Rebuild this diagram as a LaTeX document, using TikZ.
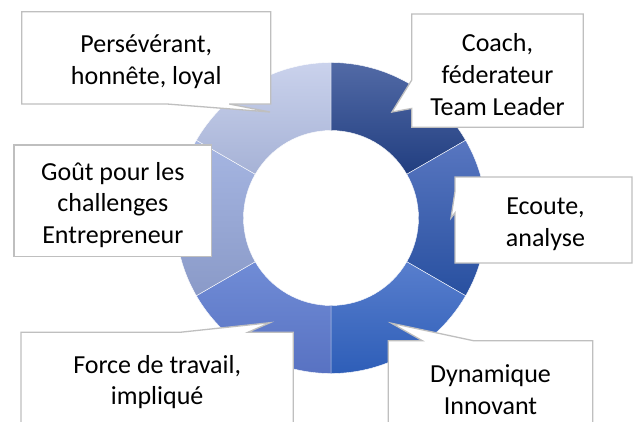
\documentclass[tikz,border=0pt]{standalone}
\usepackage{fontspec}
\setmainfont{Carlito}
\usetikzlibrary{calc}
\definecolor{coachT}{RGB}{82,106,166}
\definecolor{coachB}{RGB}{33,62,128}
\definecolor{ecouteT}{RGB}{88,118,192}
\definecolor{ecouteB}{RGB}{40,80,160}
\definecolor{dynT}{RGB}{88,126,205}
\definecolor{dynB}{RGB}{46,94,184}
\definecolor{forceT}{RGB}{112,140,214}
\definecolor{forceB}{RGB}{88,114,194}
\definecolor{goutT}{RGB}{166,182,226}
\definecolor{goutB}{RGB}{138,154,200}
\definecolor{persT}{RGB}{202,210,236}
\definecolor{persB}{RGB}{166,178,214}
\definecolor{boxline}{RGB}{191,191,191}
\tikzset{
  seg/.style={draw=white, line width=0.4pt},
  boxgeo/.style={draw=none, fill=none, inner sep=0pt, outer sep=0pt},
  callout/.style={draw=boxline, fill=white, line width=1.3pt, line join=miter},
  txt/.style={align=center, inner sep=0pt, font=\fontsize{26}{31.7}\selectfont, text=black}
}
\begin{document}
\begin{tikzpicture}[x=1pt,y=-1pt]
\useasboundingbox (0,0) rectangle (642,421);
\fill[white] (0,0) rectangle (642,421);
% doughnut
\begin{scope}[shift={(331,218)}, x=1pt, y=1pt]
  \def\R{155.5}\def\r{87.5}
  \shadedraw[seg, top color=coachT, bottom color=coachB] (90:\R) arc[start angle=90, end angle=30, radius=\R] -- (30:\r) arc[start angle=30, end angle=90, radius=\r] -- cycle;
  \shadedraw[seg, top color=ecouteT, bottom color=ecouteB] (30:\R) arc[start angle=30, end angle=-30, radius=\R] -- (-30:\r) arc[start angle=-30, end angle=30, radius=\r] -- cycle;
  \shadedraw[seg, top color=dynT, bottom color=dynB] (-30:\R) arc[start angle=-30, end angle=-90, radius=\R] -- (-90:\r) arc[start angle=-90, end angle=-30, radius=\r] -- cycle;
  \shadedraw[seg, top color=forceT, bottom color=forceB] (-90:\R) arc[start angle=-90, end angle=-150, radius=\R] -- (-150:\r) arc[start angle=-150, end angle=-90, radius=\r] -- cycle;
  \shadedraw[seg, top color=goutT, bottom color=goutB] (210:\R) arc[start angle=210, end angle=150, radius=\R] -- (150:\r) arc[start angle=150, end angle=210, radius=\r] -- cycle;
  \shadedraw[seg, top color=persT, bottom color=persB] (150:\R) arc[start angle=150, end angle=90, radius=\R] -- (90:\r) arc[start angle=90, end angle=150, radius=\r] -- cycle;
\end{scope}
% callout geometry
\node[boxgeo, minimum width=249pt, minimum height=92.3pt] (pers) at (146.2,57.85) {};
\node[boxgeo, minimum width=171.6pt, minimum height=113.3pt] (coach) at (497.5,70.65) {};
\node[boxgeo, minimum width=177pt, minimum height=86pt] (ecoute) at (543.5,220) {};
\node[boxgeo, minimum width=204.4pt, minimum height=90.3pt] (dyn) at (490.5,385.85) {};
\node[boxgeo, minimum width=272.3pt, minimum height=91.7pt] (force) at (157.15,378.15) {};
\node[boxgeo, minimum width=197.7pt, minimum height=111.7pt] (gout) at (112.85,200.85) {};
\coordinate (persTip) at (270,112);
\coordinate (coachTip) at (392,112);
\coordinate (ecouteTip) at (451,218);
\coordinate (dynTip) at (391.7,323.3);
\coordinate (forceTip) at (270,322.7);
% outlines
\draw[callout] (pers.north west) -- (pers.north east) -- (pers.south east)
  -- ($(pers.south west)!10/12!(pers.south east)$) -- (persTip)
  -- ($(pers.south west)!7/12!(pers.south east)$) -- (pers.south west) -- cycle;
\draw[callout] (coach.north west) -- (coach.north east) -- (coach.south east) -- (coach.south west)
  -- ($(coach.north west)!10/12!(coach.south west)$) -- (coachTip)
  -- ($(coach.north west)!7/12!(coach.south west)$) -- cycle;
\draw[callout] (ecoute.north west) -- (ecoute.north east) -- (ecoute.south east) -- (ecoute.south west)
  -- ($(ecoute.north west)!5/12!(ecoute.south west)$) -- (ecouteTip)
  -- ($(ecoute.north west)!2/12!(ecoute.south west)$) -- cycle;
\draw[callout] (dyn.south west) -- (dyn.north west)
  -- ($(dyn.north west)!2/12!(dyn.north east)$) -- (dynTip)
  -- ($(dyn.north west)!5/12!(dyn.north east)$) -- (dyn.north east) -- (dyn.south east) -- cycle;
\draw[callout] (force.south west) -- (force.north west)
  -- ($(force.north west)!7/12!(force.north east)$) -- (forceTip)
  -- ($(force.north west)!10/12!(force.north east)$) -- (force.north east) -- (force.south east) -- cycle;
\draw[callout] (gout.north west) rectangle (gout.south east);
% texts
\node[txt] (persText) at ([yshift=-4pt]pers.center) {Persévérant,\\honnête, loyal};
\node[txt] (coachText) at ([yshift=-4pt]coach.center) {Coach,\\féderateur\\Team Leader};
\node[txt] (ecouteText) at ([xshift=2pt,yshift=-4pt]ecoute.center) {Ecoute,\\analyse};
\node[txt] (dynText) at ([yshift=-4pt]dyn.center) {Dynamique\\Innovant};
\node[txt] (forceText) at ([yshift=-4pt]force.center) {Force de travail,\\impliqué};
\node[txt] (goutText) at ([yshift=-4pt]gout.center) {Goût pour les\\challenges\\Entrepreneur};
\end{tikzpicture}
\end{document}
